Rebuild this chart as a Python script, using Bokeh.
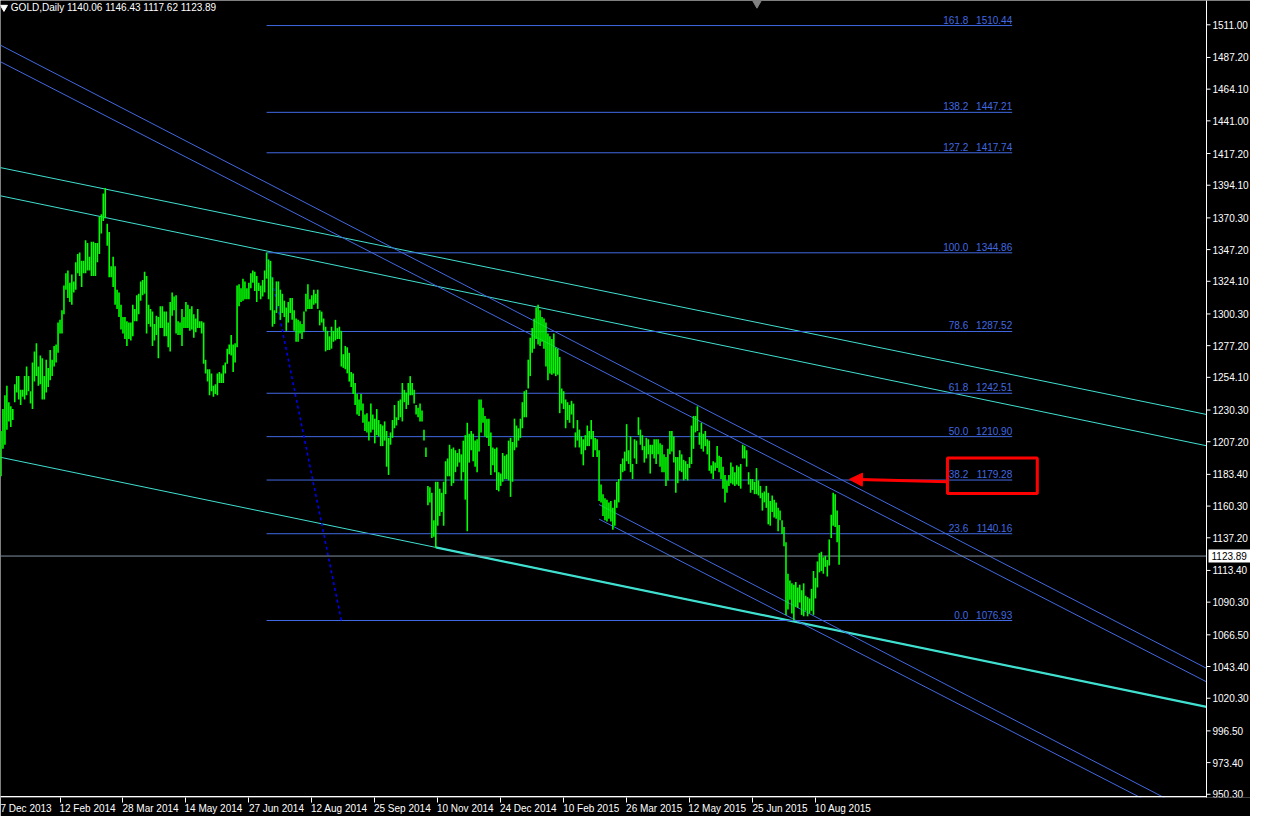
from bokeh.plotting import figure
from bokeh.models import (Range1d, LinearAxis, FixedTicker, CustomJSTickFormatter,
                          Arrow, NormalHead, ColumnDataSource)
from bokeh.core.properties import value
from bokeh.embed import file_html
from bokeh.resources import INLINE

# ---------------- data ----------------
title_text = "GOLD,Daily  1140.06 1146.43 1117.62 1123.89"
last_close = 1123.89

first_bar = 2  # bar index of the first visible daily bar
highs = [
    1215, 1231, 1241, 1248, 1236, 1233, 1231, 1249, 1255, 1255,
    1245, 1245, 1255, 1262, 1255, 1244, 1265, 1273, 1279, 1262,
    1270, 1268, 1255, 1267, 1261, 1274, 1267, 1277, 1278, 1294,
    1296, 1303, 1321, 1330, 1332, 1323, 1329, 1324, 1338, 1344,
    1345, 1339, 1339, 1354, 1352, 1342, 1353, 1353, 1352, 1352,
    1371, 1373, 1388, 1392, 1366, 1360, 1335, 1342, 1335, 1318,
    1316, 1307, 1298, 1298, 1295, 1294, 1294, 1307, 1304, 1314,
    1315, 1324, 1325, 1331, 1328, 1307, 1304, 1302, 1293, 1299,
    1298, 1306, 1306, 1302, 1302, 1294, 1309, 1316, 1313, 1314,
    1295, 1294, 1304, 1298, 1309, 1307, 1304, 1306, 1300, 1297,
    1304, 1295, 1295, 1294, 1267, 1260, 1260, 1257, 1248, 1249,
    1257, 1258, 1257, 1263, 1265, 1275, 1278, 1285, 1278, 1279,
    1321, 1322, 1319, 1326, 1324, 1319, 1323, 1330, 1332, 1331,
    1328, 1323, 1321, 1325, 1332, 1345, 1340, 1339, 1327, 1303,
    1324, 1324, 1318, 1315, 1310, 1305, 1309, 1312, 1312, 1303,
    1297, 1296, 1295, 1293, 1302, 1315, 1322, 1311, 1314, 1318,
    1315, 1318, 1303, 1302, 1297, 1291, 1288, 1284, 1291, 1288,
    1296, 1290, 1291, 1288, 1271, 1277, 1276, 1272, 1258, 1257,
    1250, 1242, 1238, 1242, 1235, 1227, 1228, 1222, 1235, 1227,
    1224, 1231, 1223, 1220, 1219, 1222, 1215, 1210, 1214, 1223,
    1234, 1225, 1237, 1238, 1250, 1245, 1243, 1250, 1255, 1250,
    1245, 1234, 1232, 1235, 1230, 1216, 1203, 1175, 1174, 1170,
    1150, 1178, 1178, 1173, 1170, 1178, 1193, 1195, 1205, 1202,
    1203, 1201, 1199, 1202, 1198, 1208, 1212, 1221, 1213, 1215,
    1213, 1208, 1209, 1238, 1238, 1232, 1226, 1224, 1224, 1214,
    1203, 1202, 1203, 1185, 1184, 1199, 1197, 1198, 1208, 1210,
    1207, 1224, 1219, 1217, 1224, 1236, 1244, 1245, 1267, 1283,
    1290, 1297, 1305, 1307, 1303, 1298, 1297, 1294, 1286, 1284,
    1282, 1286, 1276, 1275, 1269, 1246, 1244, 1238, 1236, 1234,
    1237, 1235, 1214, 1223, 1216, 1211, 1209, 1212, 1219, 1215,
    1223, 1215, 1210, 1209, 1201, 1176, 1169, 1166, 1165, 1163,
    1164, 1159, 1165, 1178, 1180, 1191, 1195, 1200, 1220, 1201,
    1211, 1191, 1209, 1208, 1225, 1216, 1212, 1204, 1210, 1209,
    1205, 1205, 1209, 1209, 1209, 1206, 1205, 1198, 1196, 1202,
    1215, 1215, 1211, 1196, 1196, 1201, 1198, 1194, 1193, 1191,
    1196, 1219, 1226, 1226, 1233, 1214, 1221, 1213, 1215, 1209,
    1208, 1190, 1193, 1192, 1204, 1197, 1196, 1189, 1183, 1179,
    1183, 1192, 1189, 1185, 1190, 1189, 1191, 1205, 1204, 1201,
    1185, 1180, 1180, 1178, 1188, 1179, 1175, 1170, 1171, 1175,
    1170, 1164, 1168, 1165, 1163, 1159, 1157, 1150, 1145, 1134,
    1111, 1106, 1104, 1103, 1105, 1101, 1103, 1099, 1104, 1095,
    1094, 1093, 1100, 1113, 1108, 1120, 1126, 1127, 1123, 1124,
    1121, 1136, 1154, 1170, 1169, 1157, 1146.43,
]
lows = [
    1182, 1202, 1205, 1216, 1222, 1218, 1223, 1236, 1243, 1238,
    1234, 1240, 1238, 1241, 1244, 1235, 1231, 1251, 1255, 1248,
    1249, 1238, 1238, 1243, 1247, 1252, 1255, 1262, 1265, 1272,
    1286, 1286, 1300, 1318, 1312, 1309, 1307, 1316, 1318, 1330,
    1328, 1320, 1330, 1330, 1332, 1332, 1328, 1328, 1328, 1338,
    1344, 1359, 1368, 1370, 1350, 1327, 1327, 1320, 1307, 1304,
    1298, 1289, 1286, 1282, 1277, 1282, 1281, 1284, 1295, 1295,
    1300, 1310, 1314, 1315, 1286, 1293, 1291, 1277, 1281, 1285,
    1268, 1290, 1290, 1284, 1284, 1276, 1273, 1299, 1303, 1286,
    1285, 1285, 1277, 1290, 1290, 1290, 1288, 1289, 1283, 1287,
    1290, 1290, 1286, 1264, 1257, 1251, 1241, 1244, 1240, 1242,
    1241, 1250, 1250, 1250, 1257, 1264, 1271, 1270, 1258, 1265,
    1276, 1306, 1309, 1310, 1311, 1311, 1311, 1319, 1323, 1317,
    1309, 1317, 1311, 1313, 1316, 1326, 1311, 1303, 1291, 1293,
    1301, 1306, 1296, 1301, 1298, 1288, 1294, 1301, 1296, 1288,
    1280, 1280, 1286, 1282, 1287, 1302, 1304, 1304, 1304, 1307,
    1308, 1304, 1292, 1294, 1288, 1273, 1274, 1274, 1275, 1280,
    1281, 1282, 1282, 1262, 1261, 1260, 1257, 1251, 1247, 1242,
    1234, 1227, 1226, 1230, 1221, 1215, 1214, 1208, 1214, 1216,
    1206, 1212, 1211, 1204, 1204, 1208, 1189, 1183, 1205, 1210,
    1217, 1219, 1223, 1225, 1222, 1236, 1231, 1234, 1241, 1241,
    1235, 1227, 1225, 1222, 1222, 1208, 1196, 1161, 1163, 1137,
    1138, 1130, 1146, 1153, 1156, 1146, 1169, 1182, 1182, 1175,
    1177, 1185, 1189, 1192, 1179, 1185, 1165, 1142, 1192, 1201,
    1193, 1189, 1185, 1200, 1214, 1221, 1211, 1210, 1204, 1183,
    1190, 1185, 1172, 1171, 1175, 1178, 1180, 1180, 1179, 1167,
    1178, 1201, 1203, 1208, 1210, 1217, 1225, 1225, 1246, 1255,
    1272, 1275, 1282, 1278, 1277, 1280, 1275, 1262, 1252, 1257,
    1256, 1257, 1255, 1256, 1228, 1235, 1231, 1217, 1223, 1221,
    1227, 1217, 1203, 1208, 1203, 1198, 1190, 1201, 1204, 1204,
    1209, 1196, 1201, 1196, 1164, 1163, 1153, 1150, 1149, 1151,
    1149, 1143, 1146, 1159, 1163, 1179, 1185, 1186, 1193, 1191,
    1185, 1180, 1195, 1191, 1212, 1205, 1201, 1192, 1195, 1198,
    1184, 1198, 1195, 1191, 1198, 1189, 1185, 1185, 1175, 1179,
    1198, 1200, 1192, 1170, 1177, 1186, 1185, 1179, 1180, 1179,
    1188, 1191, 1202, 1214, 1215, 1205, 1202, 1200, 1204, 1198,
    1186, 1184, 1180, 1186, 1188, 1185, 1180, 1173, 1163, 1170,
    1175, 1177, 1176, 1175, 1176, 1175, 1173, 1195, 1195, 1189,
    1176, 1170, 1172, 1169, 1169, 1168, 1166, 1157, 1163, 1159,
    1147, 1146, 1156, 1152, 1151, 1142, 1150, 1140, 1131, 1081,
    1085, 1092, 1082, 1077, 1087, 1086, 1090, 1081, 1080, 1084,
    1080, 1082, 1084, 1081, 1093, 1101, 1112, 1113, 1111, 1116,
    1109, 1117, 1137, 1146, 1145, 1134, 1117.62,
]

date_tick_bars = [0, 32, 64, 96, 128, 160, 192, 224, 256, 288, 320, 352, 384, 416]
date_labels = ["7 Dec 2013", "12 Feb 2014", "28 Mar 2014", "14 May 2014",
               "27 Jun 2014", "12 Aug 2014", "25 Sep 2014", "10 Nov 2014",
               "24 Dec 2014", "10 Feb 2015", "26 Mar 2015", "12 May 2015",
               "25 Jun 2015", "10 Aug 2015"]
price_ticks = [1511.00, 1487.20, 1464.10, 1441.00, 1417.20, 1394.10, 1370.30,
               1347.20, 1324.10, 1300.30, 1277.20, 1254.10, 1230.30, 1207.20,
               1183.40, 1160.30, 1137.20, 1113.40, 1090.30, 1066.50, 1043.40,
               1020.30, 996.50, 973.40, 950.30]

fib_ratios = ["161.8", "138.2", "127.2", "100.0", "78.6", "61.8", "50.0", "38.2", "23.6", "0.0"]
fib_prices = [1510.44, 1447.21, 1417.74, 1344.86, 1287.52, 1242.51, 1210.90, 1179.28, 1140.16, 1076.93]
fib_bar_start = 137
fib_bar_end = 516
fib_trend_bars = [137, 175]
fib_trend_prices = [1344.86, 1076.93]

# trendlines: two anchor points (bar, price)
cyan_lines = [
    [(55, 1391.3), (405, 1288.6)],
    [(137, 1346.2), (275, 1305.2)],
    [(223, 1130.2), (405, 1076.2)],
]
cyan_ray = [(223, 1130.2), (405, 1076.2)]
blue_lines = [
    [(50, 1460.4), (355, 1234.5)],
    [(50, 1448.5), (355, 1223.7)],
]
blue_rays = [
    [(306, 1161.4), (405, 1087.8)],
    [(306, 1150.8), (405, 1077.8)],
]
red_box = dict(left=483.1, right=528.75, bottom=1169.4, top=1195.3)
red_arrow = dict(x_start=483.25, y_start=1178.1, x_end=433.25, y_end=1179.8)

x_lo, x_axis = 1.75, 614.75      # chart area in bar units (price axis at x_axis)
y_lo, y_hi = 947.96, 1528.7

# ---------------- styles / layout ----------------
FONT = "Liberation Sans"
GREEN = "#00FF00"
ROYAL = "#4169E1"
TURQ = "#40E0D0"
W, H = 1250, 816
PLOT_PX = 1206                     # pixels of the chart area left of the price scale
bpp = (x_axis - x_lo) / PLOT_PX    # bars per pixel
x_end = x_lo + W * bpp


def extend(a, b, x0, x1):
    s = (b[1] - a[1]) / (b[0] - a[0])
    return [x0, x1], [a[1] + s * (x0 - a[0]), a[1] + s * (x1 - a[0])]


p = figure(width=W, height=H,
           x_range=Range1d(x_lo, x_end), y_range=Range1d(y_lo, y_hi),
           x_axis_location=None, y_axis_location=None,
           output_backend="svg", toolbar_location=None,
           background_fill_color="black", border_fill_color="black",
           min_border=0, outline_line_color=None)
p.grid.visible = False

# bottom axis: tick marks
ax_t = LinearAxis(ticker=FixedTicker(ticks=date_tick_bars),
                  formatter=CustomJSTickFormatter(code="return ''"),
                  axis_line_color=None, major_tick_line_color="white",
                  minor_tick_line_color=None, major_tick_out=5, major_tick_in=0,
                  major_label_text_font_size="1px", major_label_standoff=0)
p.add_layout(ax_t, "below")

label_ticks = [t + 14 for t in date_tick_bars]
ax_l = LinearAxis(ticker=FixedTicker(ticks=label_ticks),
                  formatter=CustomJSTickFormatter(
                      args=dict(tl=label_ticks, labels=date_labels),
                      code="const k = tl.indexOf(tick); return k >= 0 ? labels[k] : '';"),
                  axis_line_color=None, major_tick_line_color=None,
                  minor_tick_line_color=None, major_tick_out=0, major_tick_in=0,
                  major_label_standoff=0, major_label_text_color="white",
                  major_label_text_font=FONT, major_label_text_font_size="10px")
p.add_layout(ax_l, "below")

# trendlines
for a, b in cyan_lines:
    xs, ys = extend(a, b, x_lo - 5, x_axis)
    p.line(xs, ys, line_color=TURQ, line_width=1)
xs, ys = extend(cyan_ray[0], cyan_ray[1], cyan_ray[0][0], x_axis)
p.line(xs, ys, line_color=TURQ, line_width=2.2)

for a, b in blue_lines:
    xs, ys = extend(a, b, x_lo - 5, x_axis)
    p.line(xs, ys, line_color=ROYAL, line_width=1)
for a, b in blue_rays:
    xs, ys = extend(a, b, a[0], x_axis)
    p.line(xs, ys, line_color=ROYAL, line_width=1)

# fibonacci levels
nf = len(fib_prices)
fib_src = ColumnDataSource(dict(
    x0=[fib_bar_start] * nf, x1=[fib_bar_end] * nf,
    y=fib_prices, ratio=fib_ratios, price=["%.2f" % v for v in fib_prices]))
p.segment(x0="x0", y0="y", x1="x1", y1="y", source=fib_src, line_color=ROYAL, line_width=1)
p.text(x="x1", y="y", text="ratio", source=fib_src, text_align="right",
       text_baseline="bottom", x_offset=-44, y_offset=-2, text_color=ROYAL,
       text_font=value(FONT), text_font_size="10px")
p.text(x="x1", y="y", text="price", source=fib_src, text_align="right",
       text_baseline="bottom", y_offset=-2, text_color=ROYAL,
       text_font=value(FONT), text_font_size="10px")
p.line(fib_trend_bars, fib_trend_prices, line_color="#0000FF", line_width=1.5, line_dash="3 3")

# current price line
p.line([x_lo - 5, x_axis], [last_close, last_close], line_color="#8090A0", line_width=1)

# price bars
n = min(len(highs), len(lows))
bar_src = ColumnDataSource(dict(x=list(range(first_bar, first_bar + n)),
                                hi=highs[:n], lo=lows[:n]))
p.segment(x0="x", y0="lo", x1="x", y1="hi", source=bar_src, line_color=GREEN, line_width=1.6)

# red box and arrow
p.quad(left=[red_box["left"]], right=[red_box["right"]], bottom=[red_box["bottom"]],
       top=[red_box["top"]], fill_color=None, line_color="#FF0000", line_width=3)
p.add_layout(Arrow(end=NormalHead(size=13, fill_color="#FF0000", line_color="#FF0000"),
                   line_color="#FF0000", line_width=3, **red_arrow))

# title and markers
p.scatter(x=[3.5], y=[1523.7], marker="inverted_triangle", size=7, color="white")
p.text(x=[7], y=[1523.7], text=[title_text], text_baseline="middle", text_align="left",
       text_color="white", text_font=value(FONT), text_font_size="10px")
p.scatter(x=[386.25], y=[1527.3], marker="inverted_triangle", size=10, color="#808080")

# price scale on the right (axis line, ticks, labels, current price tag)
p.line([x_axis, x_axis], [y_lo - 5, y_hi + 5], line_color="white", line_width=1)
p.line([x_lo - 5, x_axis], [y_lo + 0.6, y_lo + 0.6], line_color="white", line_width=1.2)
ns = len(price_ticks)
scale_src = ColumnDataSource(dict(x=[x_axis] * ns, y=price_ticks,
                                  txt=["%.2f" % v for v in price_ticks]))
p.ray(x="x", y="y", length=4, length_units="screen", angle=0, source=scale_src,
      line_color="white", line_width=1)
p.text(x="x", y="y", text="txt", source=scale_src, x_offset=6, text_align="left",
       text_baseline="middle", text_color="white", text_font=value(FONT),
       text_font_size="10px")
p.rect(x=[x_axis + 24 * bpp], y=[last_close], width=44, height=13, width_units="screen",
       height_units="screen", fill_color="white", line_color=None)
p.text(x=[x_axis], y=[last_close], text=["%.2f" % last_close], x_offset=5,
       text_align="left", text_baseline="middle", text_color="black",
       text_font=value(FONT), text_font_size="10px")

open("out.html", "w").write(file_html(p, INLINE))
